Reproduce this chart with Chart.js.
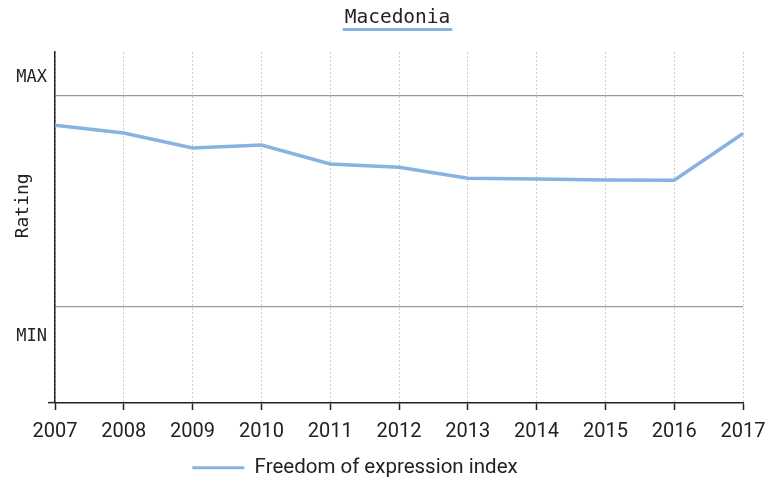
<!DOCTYPE html>
<html><head><meta charset="utf-8">
<script src="https://cdn.jsdelivr.net/npm/chart.js@4/dist/chart.umd.min.js"></script>
<style>html,body{margin:0;padding:0;background:#fff}#wrap{width:771px;height:479px}</style>
</head><body><div id="wrap"><canvas id="c" width="771" height="479"></canvas></div>
<script>
const chartTitle = 'Macedonia';
const seriesName = 'Freedom of expression index';
const yAxisTitle = 'Rating';
const years = ['2007','2008','2009','2010','2011','2012','2013','2014','2015','2016','2017'];
const values = [0.859, 0.823, 0.752, 0.766, 0.676, 0.660, 0.608, 0.605, 0.600, 0.599, 0.820];
const refLineValues = [0, 1];            // MIN and MAX reference lines
const yMin = -0.457, yMax = 1.2065;
const yTickValues = [yMin, -0.142, 0, 1, 1.085];
const yTickLabels = ['', 'MIN', '', '', 'MAX'];

const BLUE = '#88b3e1';
const INK = '#222';
const mono = '"DejaVu Sans Mono", monospace';
const sans = '"Roboto", sans-serif';

const titlePlugin = {
  id: 'titleUnderline',
  afterLayout(chart) {
    // legend in the reference sits left of centre
    if (chart.legend) chart.legend.right -= 33;
  },
  afterDraw(chart) {
    const ctx = chart.ctx, a = chart.chartArea;
    ctx.save();
    ctx.font = '19.5px ' + mono;
    ctx.fillStyle = INK;
    ctx.textAlign = 'center';
    ctx.textBaseline = 'middle';
    const cx = (a.left + a.right) / 2 - 1.5;
    ctx.fillText(chartTitle, cx, 18);
    const w = ctx.measureText(chartTitle).width + 4;
    ctx.fillStyle = BLUE;
    ctx.fillRect(cx - w / 2, 28, w, 3);
    ctx.restore();
  }
};

new Chart(document.getElementById('c'), {
  type: 'line',
  data: {
    labels: years,
    datasets: [{
      label: seriesName,
      data: values,
      borderColor: BLUE,
      backgroundColor: BLUE,
      borderWidth: 3.5,
      pointRadius: 0,
      tension: 0,
      fill: false
    }]
  },
  options: {
    responsive: false,
    animation: false,
    layout: { padding: { top: 52, right: 28, left: 0, bottom: -9 } },
    plugins: {
      title: { display: false },
      tooltip: { enabled: false },
      legend: {
        position: 'bottom',
        labels: {
          boxWidth: 52, boxHeight: 3, padding: 10,
          color: INK,
          font: { family: sans, size: 20.5 },
          generateLabels(chart) {
            return Chart.defaults.plugins.legend.labels.generateLabels(chart)
              .map(l => Object.assign(l, { lineWidth: 0 }));
          }
        }
      }
    },
    scales: {
      x: {
        type: 'category',
        offset: false,
        afterFit(s) {
          const lg = s.chart.legend ? s.chart.legend.height : 0;
          s.height = s.chart.height - 403 - lg + 9;
          s.paddingLeft = 0;
          s.paddingRight = 0;
        },
        grid: { color: '#cfcfcf', lineWidth: 1, tickColor: INK, tickLength: 7, tickWidth: 1.5, drawTicks: true },
        border: { color: INK, width: 1.5, dash: [2, 2] },
        ticks: { color: INK, font: { family: sans, size: 20 }, padding: 10, maxRotation: 0, autoSkip: false }
      },
      y: {
        min: yMin, max: yMax,
        afterBuildTicks(s) { s.ticks = yTickValues.map(v => ({ value: v })); },
        afterFit(s) { s.width = 55; },
        grid: {
          color: c => (c.tick && refLineValues.includes(c.tick.value)) ? '#999' : 'rgba(0,0,0,0)',
          tickColor: c => (c.tick && c.tick.value === yMin) ? INK : 'rgba(0,0,0,0)',
          tickLength: 7, tickWidth: 1.5, lineWidth: 1.2
        },
        border: { color: INK, width: 1.5 },
        ticks: {
          color: INK, padding: 1,
          font: { family: mono, size: 17 },
          callback: (v, i) => yTickLabels[i]
        },
        title: {
          display: true, text: '    ' + yAxisTitle, color: INK,
          font: { family: mono, size: 18 }, padding: { top: 13, bottom: 0 }
        }
      }
    }
  },
  plugins: [titlePlugin]
});
</script></body></html>
